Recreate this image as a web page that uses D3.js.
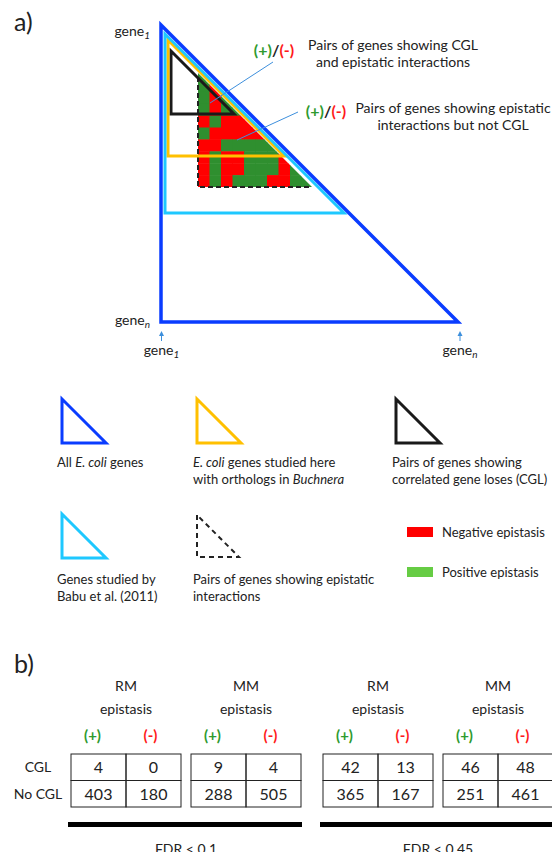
<!DOCTYPE html>
<html>
<head>
<meta charset="utf-8">
<script src="https://cdn.jsdelivr.net/npm/d3@7"></script>
<style>
body { margin: 0; background: #fff; }
svg { display: block; font-family: Lato, "Open Sans", sans-serif; }
</style>
</head>
<body>
<svg id="fig" width="552" height="852"></svg>
<script>
// ---- data ----
// epistasis cells of panel a, top row first ("g" = positive, "r" = negative)
var cellRows = ["g", "gr", "grg", "grgg", "rgrrr", "grrrrr", "rrggggg", "rgrrgggr", "rgrrgggrg", "rgrgggrrgg"];
var geneLabels = ["1", "n"];
var noteLabels = [
  ["Pairs of genes showing CGL", "and epistatic interactions"],
  ["Pairs of genes showing epistatic", "interactions but not CGL"]
];
var legendTri = [
  ["All *E. coli* genes"],
  ["*E. coli* genes studied here", "with orthologs in *Buchnera*"],
  ["Pairs of genes showing", "correlated gene loses (CGL)"],
  ["Genes studied by", "Babu et al. (2011)"],
  ["Pairs of genes showing epistatic", "interactions"]
];
var legendKeys = ["Negative epistasis", "Positive epistasis"];

// panel b
var fdrLabels = ["FDR < 0.1", "FDR < 0.45"];
var methods = ["RM", "MM", "RM", "MM"];
var signs = ["(+)", "(-)"];
var rowLabels = ["CGL", "No CGL"];
var cglCounts = [[4, 0], [9, 4], [42, 13], [46, 48]];
var noCglCounts = [[403, 180], [288, 505], [365, 167], [251, 461]];

// ---- styles ----
var ink = "#222";
var c = {
  blue: "#0a3cff", cyan: "#1ec8ff", orange: "#ffc000", black: "#1a1a1a",
  neg: "#ff0000", pos: "#2f8f2f", posKey: "#66cc44",
  plus: "#2e9a2e", minus: "#ff1a1a", note: "#3d8fdc"
};

var svg = d3.select("#fig");

function tri(x, y, s) { // right angle at bottom-left
  return "M" + x + "," + (y - s) + "L" + x + "," + y + "L" + (x + s) + "," + y + "Z";
}
function rich(sel, str) { // *...* -> italic
  str.split("*").forEach(function(s, i) {
    if (s) sel.append("tspan").attr("font-style", i % 2 ? "italic" : null).text(s);
  });
}
function gene(sel, sub) {
  sel.append("tspan").text("gene");
  sel.append("tspan").attr("dy", 3).attr("font-size", 10).attr("font-style", "italic").text(sub);
}
function plusMinus(sel) {
  sel.attr("font-weight", "bold");
  sel.append("tspan").attr("fill", c.plus).text("(+)");
  sel.append("tspan").attr("fill", ink).text("/");
  sel.append("tspan").attr("fill", c.minus).text("(-)");
}

// ---- panel a ----
svg.append("text").attr("x", 14).attr("y", 31).attr("font-size", 25).attr("fill", ink).text("a)");

var a = svg.append("g");

// cell grid
var colX = d3.scaleBand().domain(d3.range(10)).range([198, 313]);
var rowY = d3.scaleBand().domain(d3.range(cellRows.length)).range([68, 187]);

a.append("clipPath").attr("id", "epi")
  .append("path").attr("d", tri(198, 187, 114));

a.append("g").attr("clip-path", "url(#epi)")
  .selectAll("g").data(cellRows).enter().append("g")
  .selectAll("rect")
  .data(function(r, i) { return r.split("").map(function(v, j) { return {v: v, i: i, j: j}; }); })
  .enter().append("rect")
  .attr("x", function(d) { return colX(d.j); })
  .attr("y", function(d) { return rowY(d.i); })
  .attr("width", colX.bandwidth() + 0.5)
  .attr("height", rowY.bandwidth() + 0.5)
  .attr("fill", function(d) { return d.v == "g" ? c.pos : c.neg; });

a.append("path")
  .attr("d", "M198,77L198,187L312,187")
  .attr("fill", "none").attr("stroke", ink)
  .attr("stroke-width", 2).attr("stroke-dasharray", "5,3");

// nested gene sets
var sets = [
  {x: 171, y: 114, s: 63, col: c.black, w: 3},
  {x: 168, y: 156, s: 116, col: c.orange, w: 3},
  {x: 165, y: 213, s: 179, col: c.cyan, w: 3},
  {x: 161, y: 322, s: 297, col: c.blue, w: 3.5}
];
a.selectAll("path.set").data(sets).enter().append("path")
  .attr("class", "set")
  .attr("d", function(d) { return tri(d.x, d.y, d.s); })
  .attr("fill", "none")
  .attr("stroke", function(d) { return d.col; })
  .attr("stroke-width", function(d) { return d.w; })
  .attr("stroke-linejoin", "miter").attr("stroke-miterlimit", 12);

// pointer lines + notes
var notes = [
  {from: [273, 62], to: [210, 103], lx: 274, ly: 56, tx: 393, ty: 50},
  {from: [298, 112], to: [237, 140], lx: 326, ly: 117, tx: 453, ty: 113}
];
notes.forEach(function(n, i) {
  a.append("line")
    .attr("x1", n.from[0]).attr("y1", n.from[1])
    .attr("x2", n.to[0]).attr("y2", n.to[1])
    .attr("stroke", c.note).attr("stroke-width", 1);
  a.append("text").attr("x", n.lx).attr("y", n.ly)
    .attr("text-anchor", "middle").attr("font-size", 16).call(plusMinus);
  a.append("text").attr("x", n.tx).attr("y", n.ty)
    .attr("text-anchor", "middle").attr("font-size", 14).attr("fill", ink)
    .selectAll("tspan").data(noteLabels[i]).enter().append("tspan")
    .attr("x", n.tx).attr("dy", function(d, k) { return k ? 17 : 0; })
    .text(function(d) { return d; });
});

// gene axis labels
a.append("text").attr("x", 150).attr("y", 36).attr("text-anchor", "end")
  .attr("font-size", 14).attr("fill", ink).call(gene, geneLabels[0]);
a.append("text").attr("x", 150).attr("y", 325).attr("text-anchor", "end")
  .attr("font-size", 14).attr("fill", ink).call(gene, geneLabels[1]);

[161.5, 460].forEach(function(x, i) {
  a.append("line").attr("x1", x).attr("x2", x).attr("y1", 341).attr("y2", 335)
    .attr("stroke", c.note).attr("stroke-width", 1);
  a.append("path").attr("d", "M" + (x - 2.5) + ",336L" + (x + 2.5) + ",336L" + x + ",331Z")
    .attr("fill", c.note);
  a.append("text").attr("x", x).attr("y", 355).attr("text-anchor", "middle")
    .attr("font-size", 14).attr("fill", ink).call(gene, geneLabels[i]);
});

// ---- legend ----
var lg = svg.append("g").attr("font-size", 13).attr("fill", ink);
var legendPos = [
  {x: 62, y: 443, tx: 57, ty: 467, col: c.blue},
  {x: 197, y: 443, tx: 193, ty: 467, col: c.orange},
  {x: 396, y: 443, tx: 392, ty: 467, col: c.black},
  {x: 62, y: 558, tx: 57, ty: 584, col: c.cyan},
  {x: 197, y: 557, tx: 193, ty: 584, col: ink, dash: true}
];
legendPos.forEach(function(p, i) {
  lg.append("path").attr("d", tri(p.x, p.y, p.dash ? 42 : 44))
    .attr("fill", "none").attr("stroke", p.col)
    .attr("stroke-width", p.dash ? 2 : 3)
    .attr("stroke-dasharray", p.dash ? "5,4" : null)
    .attr("stroke-linejoin", "miter").attr("stroke-miterlimit", 12);
  legendTri[i].forEach(function(line, k) {
    lg.append("text").attr("x", p.tx).attr("y", p.ty + k * 17).call(rich, line);
  });
});
legendKeys.forEach(function(k, i) {
  lg.append("rect").attr("x", 407).attr("y", 527 + i * 40)
    .attr("width", 26).attr("height", 10)
    .attr("fill", i ? c.posKey : c.neg);
  lg.append("text").attr("x", 442).attr("y", 537 + i * 40).text(k);
});

// ---- panel b ----
svg.append("text").attr("x", 14).attr("y", 673).attr("font-size", 25).attr("fill", ink).text("b)");

var fdrX = d3.scaleBand().domain(fdrLabels).range([71, 553]).paddingInner(22 / 252);
var methX = d3.scaleBand().domain([0, 1]).range([0, fdrX.bandwidth()]).paddingInner(10 / 120);
var cellX = d3.scaleBand().domain(signs).range([0, methX.bandwidth()]);
var rowB = d3.scaleBand().domain(rowLabels).range([754, 807]);

var b = svg.append("g").attr("fill", ink);

rowLabels.forEach(function(r) {
  b.append("text").attr("x", 38).attr("y", rowB(r) + rowB.bandwidth() / 2 + 5)
    .attr("text-anchor", "middle").attr("font-size", 14).text(r);
});

methods.forEach(function(m, g) {
  var x0 = fdrX(fdrLabels[Math.floor(g / 2)]) + methX(g % 2);
  var tg = b.append("g").attr("transform", "translate(" + x0 + ",0)");
  var mid = methX.bandwidth() / 2;
  tg.append("text").attr("x", mid).attr("y", 691).attr("text-anchor", "middle").attr("font-size", 14).text(m);
  tg.append("text").attr("x", mid).attr("y", 714).attr("text-anchor", "middle").attr("font-size", 14).text("epistasis");
  signs.forEach(function(s, k) {
    tg.append("text").attr("x", cellX(s) + cellX.bandwidth() / 2 - (k ? 3 : 6)).attr("y", 741)
      .attr("text-anchor", "middle").attr("font-size", 15).attr("font-weight", "bold")
      .attr("fill", k ? c.minus : c.plus).text(s);
  });
  var vals = [cglCounts[g], noCglCounts[g]];
  rowLabels.forEach(function(r, ri) {
    signs.forEach(function(s, k) {
      tg.append("rect").attr("x", cellX(s)).attr("y", rowB(r))
        .attr("width", cellX.bandwidth()).attr("height", rowB.bandwidth())
        .attr("fill", "none").attr("stroke", ink).attr("stroke-width", 1);
      tg.append("text").attr("x", cellX(s) + cellX.bandwidth() / 2)
        .attr("y", rowB(r) + rowB.bandwidth() / 2 + 6)
        .attr("text-anchor", "middle").attr("font-size", 16).text(vals[ri][k]);
    });
  });
});

fdrLabels.forEach(function(f, i) {
  var x = fdrX(f);
  b.append("rect").attr("x", x - 3).attr("y", 822)
    .attr("width", fdrX.bandwidth() + 4).attr("height", 5).attr("fill", "#000");
  b.append("text").attr("x", x + fdrX.bandwidth() / 2).attr("y", 854)
    .attr("text-anchor", "middle").attr("font-size", 14).text(f);
});
</script>
</body>
</html>
